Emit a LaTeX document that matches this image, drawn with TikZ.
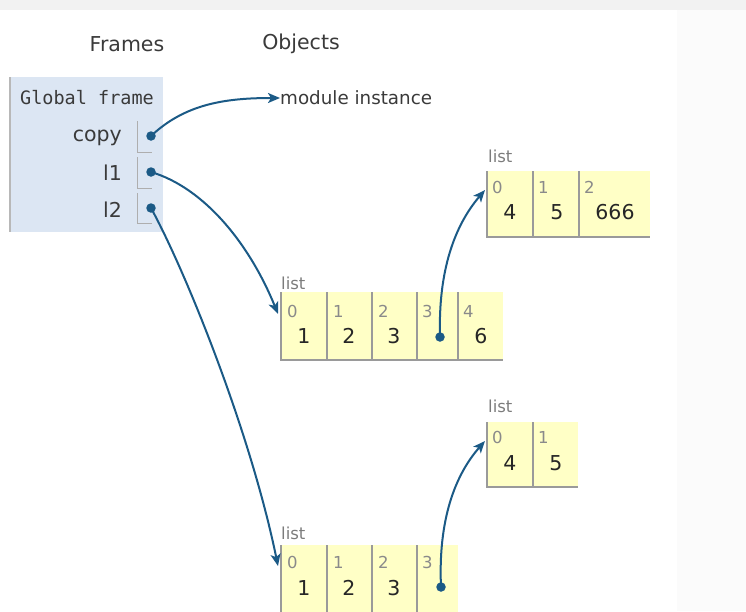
\documentclass[tikz,border=0pt]{standalone}
\usepackage{fontspec}
\setmainfont{DejaVu Sans}
\newfontfamily\monofam{DejaVu Sans Mono}
\usetikzlibrary{arrows.meta}
\definecolor{ptlink}{HTML}{1B5A86}
\definecolor{ptframe}{HTML}{DCE6F3}
\definecolor{ptheap}{HTML}{FFFFC6}
\definecolor{ptline}{HTML}{9A9A9A}
\definecolor{ptidx}{HTML}{8A8A8A}
\definecolor{pttext}{HTML}{3A3A3A}
\begin{document}
\begin{tikzpicture}[x=1pt,y=-1pt,
  heading/.style={font=\fontsize{20.5}{22}\selectfont, text=pttext, inner sep=0pt},
  varname/.style={font=\fontsize{20.5}{22}\selectfont, text=pttext, inner sep=0pt, anchor=east},
  listlabel/.style={font=\fontsize{16.5}{18}\selectfont, text=ptidx!90!black, inner sep=0pt, anchor=west},
  idx/.style={font=\fontsize{16.5}{18}\selectfont, text=ptidx, inner sep=0pt, anchor=west},
  val/.style={font=\fontsize{20.5}{22}\selectfont, text=black!85, inner sep=0pt},
  listbox/.style={fill=ptheap, draw=none, anchor=north west, inner sep=0pt},
  border/.style={draw=ptline, line width=1.2pt},
  bracket/.style={draw=ptline!80, line width=1pt},
  ptr/.style={draw=ptlink, line width=2pt, -{Stealth[length=12pt,width=10pt,inset=3pt]}},
  ptdot/.style={circle, fill=ptlink, inner sep=0pt, minimum size=9.5pt}
]
\useasboundingbox (0,0) rectangle (746,611);
% background strips
\fill[black!5] (0,0) rectangle (746,10);
\fill[black!1.5] (677,10) rectangle (746,611);

% headings
\node[heading] (hframes) at (127,44) {Frames};
\node[heading] (hobjects) at (301,44) {Objects};

% global frame
\node[fill=ptframe, anchor=north west, minimum width=153pt, minimum height=155pt, inner sep=0pt] (gf) at (10,77) {};
\draw[draw=ptline!70, line width=1.5pt] (gf.north west) -- (gf.south west);
\node[font=\monofam\fontsize{18.5}{20}\selectfont, text=pttext, inner sep=0pt] (gftitle) at (87,98) {Global frame};

\node[varname] (vcopy) at (122,138) {copy};
\node[varname] (vl1) at (122,173) {l1};
\node[varname] (vl2) at (122,210) {l2};

\draw[bracket] (137,121) -- (137,152) -- (152,152);
\draw[bracket] (137,157) -- (137,188) -- (152,188);
\draw[bracket] (137,193) -- (137,223) -- (152,223);

\node[ptdot] (dcopy) at (151,136) {};
\node[ptdot] (dl1) at (151,172) {};
\node[ptdot] (dl2) at (151,208) {};

% module instance
\node[font=\fontsize{18.3}{20}\selectfont, text=pttext, inner sep=0pt, anchor=west] (modinst) at (280,98) {module instance};

% list A : [4,5,666]
\node[listlabel] (labA) at (488,156) {list};
\node[listbox, minimum width=163pt, minimum height=66pt] (LA) at (487,171) {};
\draw[border] (487,171) -- (487,237) -- (650,237);
\draw[border] (533,171) -- (533,237);
\draw[border] (579,171) -- (579,237);
\node[idx] (iA0) at (492,187) {0};
\node[idx] (iA1) at (538,187) {1};
\node[idx] (iA2) at (584,187) {2};
\node[val] (vA0) at (510,212) {4};
\node[val] (vA1) at (557,212) {5};
\node[val] (vA2) at (615,212) {666};

% list B : [1,2,3,ptr,6]
\node[listlabel] (labB) at (281,283) {list};
\node[listbox, minimum width=222pt, minimum height=68pt] (LB) at (281,292) {};
\draw[border] (281,292) -- (281,360) -- (503,360);
\draw[border] (327,292) -- (327,360);
\draw[border] (372,292) -- (372,360);
\draw[border] (417,292) -- (417,360);
\draw[border] (458,292) -- (458,360);
\node[idx] (iB0) at (287,311) {0};
\node[idx] (iB1) at (333,311) {1};
\node[idx] (iB2) at (378,311) {2};
\node[idx] (iB3) at (422,311) {3};
\node[idx] (iB4) at (463,311) {4};
\node[val] (vB0) at (304,336) {1};
\node[val] (vB1) at (349,336) {2};
\node[val] (vB2) at (394,336) {3};
\node[ptdot] (dB3) at (440,337) {};
\node[val] (vB4) at (481,336) {6};

% list C : [4,5]
\node[listlabel] (labC) at (488,406) {list};
\node[listbox, minimum width=91pt, minimum height=65pt] (LC) at (487,422) {};
\draw[border] (487,422) -- (487,487) -- (578,487);
\draw[border] (533,422) -- (533,487);
\node[idx] (iC0) at (492,437) {0};
\node[idx] (iC1) at (538,437) {1};
\node[val] (vC0) at (510,463) {4};
\node[val] (vC1) at (556,463) {5};

% list D : [1,2,3,ptr]
\node[listlabel] (labD) at (281,533) {list};
\node[listbox, minimum width=177pt, minimum height=70pt] (LD) at (281,545) {};
\draw[border] (281,545) -- (281,615);
\draw[border] (327,545) -- (327,615);
\draw[border] (372,545) -- (372,615);
\draw[border] (417,545) -- (417,615);
\node[idx] (iD0) at (287,562) {0};
\node[idx] (iD1) at (333,562) {1};
\node[idx] (iD2) at (378,562) {2};
\node[idx] (iD3) at (422,562) {3};
\node[val] (vD0) at (304,588) {1};
\node[val] (vD1) at (349,588) {2};
\node[val] (vD2) at (394,588) {3};
\node[ptdot] (dD3) at (441,587) {};

% pointer targets
\coordinate (tA) at (485,190);
\coordinate (tB) at (278,314);
\coordinate (tC) at (485,441);
\coordinate (tD) at (278,566);

% pointers
\draw[ptr] (dcopy.center) .. controls (185,104) and (225,98) .. (modinst.west);
\draw[ptr] (dl1.center) .. controls (205,188) and (250,245) .. (tB);
\draw[ptr] (dl2.center) .. controls (185,270) and (250,430) .. (tD);
\draw[ptr] (dB3.center) .. controls (438,270) and (455,225) .. (tA);
\draw[ptr] (dD3.center) .. controls (438,520) and (455,475) .. (tC);
\end{tikzpicture}
\end{document}
